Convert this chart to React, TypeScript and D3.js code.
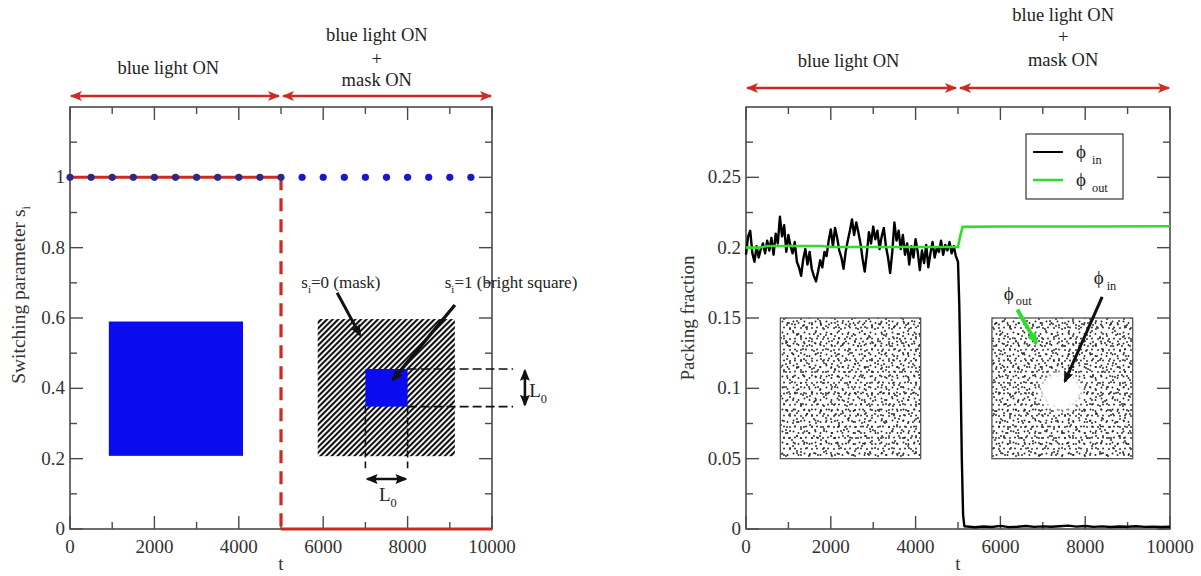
import React, { useRef, useEffect } from 'react';
import * as d3 from 'd3';

const W = 1201;
const H = 576;
const FONT = '"Liberation Serif", "Times New Roman", serif';

// ---- shared axis ticks ----
const T_MAJOR = [0, 2000, 4000, 6000, 8000, 10000];
const T_MINOR = [1000, 3000, 5000, 7000, 9000];
const T_LABELS = ['0', '2000', '4000', '6000', '8000', '10000'];

// ---- left panel: switching parameter ----
const S_MAJOR = [0, 0.2, 0.4, 0.6, 0.8, 1];
const S_MINOR = [0.1, 0.3, 0.5, 0.7, 0.9, 1.1];
const S_LABELS = ['0', '0.2', '0.4', '0.6', '0.8', '1'];

const DOT_T = [0, 500, 1000, 1500, 2000, 2500, 3000, 3500, 4000, 4500, 5000,
  5500, 6000, 6500, 7000, 7500, 8000, 8500, 9000, 9500];
const DOT_S = [1, 1, 1, 1, 1, 1, 1, 1, 1, 1, 1, 1, 1, 1, 1, 1, 1, 1, 1, 1];

// bright-square switching: on until the mask, then off
const SW_ON = [[0, 1], [5000, 1]];
const SW_DROP = [[5000, 1], [5000, 0]];
const SW_OFF = [[5000, 0], [10000, 0]];

// ---- right panel: packing fraction ----
const PHI_MAJOR = [0, 0.05, 0.1, 0.15, 0.2, 0.25];
const PHI_MINOR = [0.025, 0.075, 0.125, 0.175, 0.225, 0.275];
const PHI_LABELS = ['0', '0.05', '0.1', '0.15', '0.2', '0.25'];

const PHI_IN = [
  [0, 0.195], [50, 0.208], [100, 0.212], [150, 0.196], [200, 0.19], [250, 0.201],
  [300, 0.193], [350, 0.199], [400, 0.203], [450, 0.196], [500, 0.205], [550, 0.198],
  [600, 0.207], [650, 0.195], [700, 0.21], [750, 0.203], [800, 0.222], [850, 0.208],
  [900, 0.216], [950, 0.197], [1000, 0.209], [1050, 0.201], [1100, 0.196], [1150, 0.204],
  [1200, 0.19], [1250, 0.186], [1300, 0.18], [1350, 0.192], [1400, 0.199], [1450, 0.188],
  [1500, 0.197], [1550, 0.185], [1600, 0.18], [1650, 0.176], [1700, 0.183], [1750, 0.191],
  [1800, 0.186], [1850, 0.197], [1900, 0.194], [1950, 0.205], [2000, 0.213], [2050, 0.201],
  [2100, 0.214], [2150, 0.207], [2200, 0.198], [2250, 0.193], [2300, 0.185], [2350, 0.197],
  [2400, 0.205], [2450, 0.212], [2500, 0.22], [2550, 0.209], [2600, 0.218], [2650, 0.211],
  [2700, 0.203], [2750, 0.192], [2800, 0.183], [2850, 0.196], [2900, 0.211], [2950, 0.203],
  [3000, 0.215], [3050, 0.206], [3100, 0.212], [3150, 0.199], [3200, 0.208], [3250, 0.214],
  [3300, 0.201], [3350, 0.193], [3400, 0.182], [3450, 0.197], [3500, 0.218], [3550, 0.205],
  [3600, 0.212], [3650, 0.199], [3700, 0.209], [3750, 0.195], [3800, 0.203], [3850, 0.188],
  [3900, 0.201], [3950, 0.193], [4000, 0.206], [4050, 0.197], [4100, 0.184], [4150, 0.198],
  [4200, 0.189], [4250, 0.202], [4300, 0.186], [4350, 0.196], [4400, 0.204], [4450, 0.193],
  [4500, 0.2], [4550, 0.197], [4600, 0.205], [4650, 0.195], [4700, 0.202], [4750, 0.198],
  [4800, 0.204], [4850, 0.196], [4900, 0.201], [4950, 0.194], [5000, 0.19],
  [5030, 0.16], [5060, 0.11], [5090, 0.05], [5120, 0.01], [5150, 0.002],
  [5400, 0.0012], [5600, 0.0018], [5800, 0.0014], [6000, 0.0022], [6200, 0.0013],
  [6400, 0.0016], [6600, 0.0021], [6800, 0.0015], [7000, 0.0019], [7200, 0.0016],
  [7400, 0.002], [7600, 0.0024], [7800, 0.0017], [8000, 0.0021], [8200, 0.0015],
  [8400, 0.0019], [8600, 0.0014], [8800, 0.0018], [9000, 0.0016], [9200, 0.002],
  [9400, 0.0015], [9600, 0.0017], [9800, 0.0014], [10000, 0.0016],
];

const PHI_OUT = [
  [0, 0.2], [300, 0.2], [500, 0.2012], [1800, 0.2012], [2000, 0.2005], [4000, 0.2005],
  [5000, 0.2005], [5050, 0.208], [5110, 0.2148], [6000, 0.215], [8000, 0.215], [10000, 0.2152],
];

const GREEN = '#30dc30';
const RED = '#cc2a22';
const BLUE = '#0b0bf0';

function drawFrame(g: any, x: any, y: any, yMaj: number[], yMin: number[], yLab: string[]) {
  const [xa, xb] = x.range();
  const [ya, yb] = y.range();
  const col = '#4a4a4a';
  const tick = (x1: number, y1: number, x2: number, y2: number) =>
    g.append('line').attr('x1', x1).attr('y1', y1).attr('x2', x2).attr('y2', y2)
      .attr('stroke', col).attr('stroke-width', 1.4);
  T_MAJOR.forEach(v => { tick(x(v), ya, x(v), ya - 13); tick(x(v), yb, x(v), yb + 13); });
  T_MINOR.forEach(v => { tick(x(v), ya, x(v), ya - 7); tick(x(v), yb, x(v), yb + 7); });
  yMaj.forEach(v => { tick(xa, y(v), xa + 13, y(v)); tick(xb, y(v), xb - 13, y(v)); });
  yMin.forEach(v => { tick(xa, y(v), xa + 7, y(v)); tick(xb, y(v), xb - 7, y(v)); });
  g.append('rect').attr('x', xa).attr('y', yb).attr('width', xb - xa).attr('height', ya - yb)
    .attr('fill', 'none').attr('stroke', col).attr('stroke-width', 1.6);
  T_MAJOR.forEach((v, i) => g.append('text').attr('x', x(v)).attr('y', ya + 24)
    .attr('text-anchor', 'middle').attr('font-size', 19).attr('fill', '#333').text(T_LABELS[i]));
  yMaj.forEach((v, i) => g.append('text').attr('x', xa - 5).attr('y', y(v) + 6)
    .attr('text-anchor', 'end').attr('font-size', 19).attr('fill', '#333').text(yLab[i]));
  g.append('text').attr('x', x(5000)).attr('y', ya + 41).attr('text-anchor', 'middle')
    .attr('font-size', 19).attr('fill', '#333').text('t');
}

function drawPhases(g: any, x: any, arrowY: number, leftT: number, rightT: number, titleY: number, rightYs: number[]) {
  g.append('line').attr('x1', x(0) + 1).attr('x2', x(5000) - 2).attr('y1', arrowY).attr('y2', arrowY)
    .attr('stroke', RED).attr('stroke-width', 2.6)
    .attr('marker-start', 'url(#redHead)').attr('marker-end', 'url(#redHead)');
  g.append('line').attr('x1', x(5000) + 2).attr('x2', x(10000) - 1).attr('y1', arrowY).attr('y2', arrowY)
    .attr('stroke', RED).attr('stroke-width', 2.6)
    .attr('marker-start', 'url(#redHead)').attr('marker-end', 'url(#redHead)');
  const txt = (t: number, yy: number, s: string) => g.append('text').attr('x', x(t)).attr('y', yy)
    .attr('text-anchor', 'middle').attr('font-size', 18.5).attr('fill', '#222').text(s);
  txt(leftT, titleY, 'blue light ON');
  txt(rightT, rightYs[0], 'blue light ON');
  txt(rightT, rightYs[1], '+');
  txt(rightT, rightYs[2], 'mask ON');
}

function subText(g: any, px: number, py: number, main: string, sub: string, size: number, color = '#222', gap = 0) {
  const t = g.append('text').attr('x', px).attr('y', py).attr('font-size', size).attr('fill', color);
  t.append('tspan').text(main);
  t.append('tspan').attr('dx', gap).attr('dy', size * 0.3).attr('font-size', size * 0.65).text(sub);
  return t;
}

export default function App() {
  const ref = useRef<SVGSVGElement>(null);

  useEffect(() => {
    const svg = d3.select(ref.current);
    svg.selectAll('*').remove();
    svg.attr('font-family', FONT);

    const defs = svg.append('defs');
    defs.append('marker').attr('id', 'redHead').attr('viewBox', '0 0 13 11')
      .attr('markerUnits', 'userSpaceOnUse').attr('markerWidth', 13).attr('markerHeight', 11)
      .attr('refX', 11).attr('refY', 5.5).attr('orient', 'auto-start-reverse')
      .append('path').attr('d', 'M0,0.5 L12,5.5 L0,10.5 L3,5.5 Z').attr('fill', RED);
    defs.append('marker').attr('id', 'blackHead').attr('viewBox', '0 0 12 10')
      .attr('markerUnits', 'userSpaceOnUse').attr('markerWidth', 12).attr('markerHeight', 10)
      .attr('refX', 10).attr('refY', 5).attr('orient', 'auto-start-reverse')
      .append('path').attr('d', 'M0,0 L12,5 L0,10 L2,5 Z').attr('fill', '#111');
    defs.append('marker').attr('id', 'greenHead').attr('viewBox', '0 0 12 10')
      .attr('markerUnits', 'userSpaceOnUse').attr('markerWidth', 12).attr('markerHeight', 11)
      .attr('refX', 10).attr('refY', 5).attr('orient', 'auto')
      .append('path').attr('d', 'M0,0 L12,5 L0,10 Z').attr('fill', GREEN);

    // hatch for the mask
    defs.append('pattern').attr('id', 'hatch').attr('patternUnits', 'userSpaceOnUse')
      .attr('width', 4).attr('height', 4).attr('patternTransform', 'rotate(45)')
      .append('rect').attr('x', 0).attr('y', 0).attr('width', 2.1).attr('height', 4).attr('fill', '#111');

    // particle textures for snapshots
    const tiles: [string, number, number[][]][] = [
      ['pA', 11, [[1.5, 2.5], [6.5, 4], [3, 8.5], [9, 9]]],
      ['pB', 17, [[2, 13], [8, 6], [13, 1.5], [15, 11], [5, 2]]],
      ['pC', 23, [[4, 19], [11, 9], [19, 15], [21, 4], [7, 1], [15, 22]]],
      ['pD', 29, [[3, 24], [14, 16], [24, 8], [9, 5], [20, 27], [27, 19]]],
    ];
    tiles.forEach(([id, s, pts]) => {
      const p = defs.append('pattern').attr('id', id).attr('patternUnits', 'userSpaceOnUse')
        .attr('width', s).attr('height', s);
      pts.forEach(([cx, cy]) => p.append('circle').attr('cx', cx).attr('cy', cy).attr('r', 0.95).attr('fill', '#262626'));
    });
    defs.append('filter').attr('id', 'soft').append('feGaussianBlur').attr('stdDeviation', 2.5);

    // ================= LEFT PANEL =================
    const xL = d3.scaleLinear().domain([0, 10000]).range([70, 492]);
    const yL = d3.scaleLinear().domain([0, 1.2]).range([529, 107]);
    const gL = svg.append('g');

    drawFrame(gL, xL, yL, S_MAJOR, S_MINOR, S_LABELS);
    drawPhases(gL, xL, 96, 2330, 7270, 74, [41, 65, 86]);

    const ylab = gL.append('text').attr('transform', 'translate(25,295) rotate(-90)')
      .attr('text-anchor', 'middle').attr('font-size', 19.5).attr('fill', '#333');
    ylab.append('tspan').text('Switching parameter s');
    ylab.append('tspan').attr('dy', 5).attr('font-size', 12).text('i');

    // bright square (before mask)
    gL.append('rect').attr('x', xL(920)).attr('y', yL(0.59))
      .attr('width', xL(4100) - xL(920)).attr('height', yL(0.208) - yL(0.59)).attr('fill', BLUE);

    // mask with bright square
    gL.append('rect').attr('x', xL(5870)).attr('y', yL(0.597))
      .attr('width', xL(9120) - xL(5870)).attr('height', yL(0.207) - yL(0.597)).attr('fill', 'url(#hatch)');
    gL.append('rect').attr('x', xL(7000)).attr('y', yL(0.455))
      .attr('width', xL(8000) - xL(7000)).attr('height', yL(0.348) - yL(0.455)).attr('fill', BLUE);

    const dash = (x1: number, y1: number, x2: number, y2: number, da: string) =>
      gL.append('line').attr('x1', xL(x1)).attr('y1', yL(y1)).attr('x2', xL(x2)).attr('y2', yL(y2))
        .attr('stroke', '#111').attr('stroke-width', 1.6).attr('stroke-dasharray', da);
    dash(8000, 0.455, 10500, 0.455, '9,4');
    dash(8000, 0.348, 10500, 0.348, '9,4');
    dash(7000, 0.348, 7000, 0.173, '7,4');
    dash(8000, 0.348, 8000, 0.173, '7,4');

    const arrow = (g: any, x: any, y: any, x1: number, y1: number, x2: number, y2: number, w: number, both: boolean, color = '#111', head = 'blackHead') => {
      const l = g.append('line').attr('x1', x(x1)).attr('y1', y(y1)).attr('x2', x(x2)).attr('y2', y(y2))
        .attr('stroke', color).attr('stroke-width', w).attr('marker-end', `url(#${head})`);
      if (both) l.attr('marker-start', `url(#${head})`);
    };
    arrow(gL, xL, yL, 10780, 0.45, 10780, 0.353, 2.6, true);
    arrow(gL, xL, yL, 7050, 0.142, 7950, 0.142, 2.6, true);
    subText(gL, xL(10880), yL(0.375), 'L', '0', 19);
    subText(gL, xL(7320), yL(0.08), 'L', '0', 19);

    subText(gL, xL(5480), yL(0.685), 's', 'i', 17).append('tspan').attr('dy', -5).attr('font-size', 17).text('=0 (mask)');
    subText(gL, xL(8880), yL(0.685), 's', 'i', 17).append('tspan').attr('dy', -5).attr('font-size', 17).text('=1 (bright square)');
    arrow(gL, xL, yL, 6330, 0.672, 6870, 0.552, 3, false);
    arrow(gL, xL, yL, 9120, 0.637, 7650, 0.424, 3.4, false);

    // step line and dots
    const lineL = d3.line<number[]>().x(d => xL(d[0])).y(d => yL(d[1]));
    gL.append('path').attr('d', lineL(SW_ON)).attr('fill', 'none').attr('stroke', RED).attr('stroke-width', 3);
    gL.append('path').attr('d', lineL(SW_DROP)).attr('fill', 'none').attr('stroke', RED)
      .attr('stroke-width', 3.2).attr('stroke-dasharray', '13,8');
    gL.append('path').attr('d', lineL(SW_OFF)).attr('fill', 'none').attr('stroke', RED).attr('stroke-width', 3);
    gL.selectAll('circle.dot').data(DOT_T).enter().append('circle').attr('class', 'dot')
      .attr('cx', d => xL(d)).attr('cy', (_, i) => yL(DOT_S[i])).attr('r', 3.6)
      .attr('fill', d => (d <= 5000 ? '#2a2a8c' : '#1717cc'));

    // ================= RIGHT PANEL =================
    const xR = d3.scaleLinear().domain([0, 10000]).range([746, 1170]);
    const yR = d3.scaleLinear().domain([0, 0.3]).range([529, 107]);
    const gR = svg.append('g');

    drawFrame(gR, xR, yR, PHI_MAJOR, PHI_MINOR, PHI_LABELS);
    drawPhases(gR, xR, 88, 2420, 7480, 67, [21, 43, 66]);
    gR.append('text').attr('transform', 'translate(694,318) rotate(-90)').attr('text-anchor', 'middle')
      .attr('font-size', 19).attr('fill', '#333').text('Packing fraction');

    // snapshots
    const snap = (t0: number, t1: number, hole: boolean) => {
      const x0 = xR(t0), x1 = xR(t1), y0 = yR(0.15), y1 = yR(0.05);
      gR.append('rect').attr('x', x0).attr('y', y0).attr('width', x1 - x0).attr('height', y1 - y0).attr('fill', '#fff');
      ['pA', 'pB', 'pC', 'pD'].forEach(id => gR.append('rect').attr('x', x0).attr('y', y0)
        .attr('width', x1 - x0).attr('height', y1 - y0).attr('fill', `url(#${id})`));
      if (hole) {
        gR.append('ellipse').attr('cx', xR(7430)).attr('cy', yR(0.098)).attr('rx', 21).attr('ry', 19)
          .attr('fill', '#fff').attr('filter', 'url(#soft)');
        gR.append('ellipse').attr('cx', xR(7430)).attr('cy', yR(0.098)).attr('rx', 15).attr('ry', 14).attr('fill', '#fff');
      }
      gR.append('rect').attr('x', x0).attr('y', y0).attr('width', x1 - x0).attr('height', y1 - y0)
        .attr('fill', 'none').attr('stroke', '#555').attr('stroke-width', 1.3);
    };
    snap(810, 4120, false);
    snap(5800, 9120, true);

    subText(gR, xR(6080), yR(0.163), 'ϕ', 'out', 19, '#222', 2);
    subText(gR, xR(8200), yR(0.174), 'ϕ', 'in', 19, '#222', 3);
    arrow(gR, xR, yR, 6400, 0.156, 6850, 0.132, 4, false, GREEN, 'greenHead');
    arrow(gR, xR, yR, 8400, 0.165, 7520, 0.105, 3, false);

    const lineR = d3.line<number[]>().x(d => xR(d[0])).y(d => yR(d[1]));
    gR.append('path').attr('d', lineR(PHI_IN)).attr('fill', 'none').attr('stroke', '#000')
      .attr('stroke-width', 2.4).attr('stroke-linejoin', 'round');
    gR.append('path').attr('d', lineR(PHI_OUT)).attr('fill', 'none').attr('stroke', GREEN).attr('stroke-width', 2.6);

    // legend
    const lx = 1026, ly = 134;
    gR.append('rect').attr('x', lx).attr('y', ly).attr('width', 97).attr('height', 65)
      .attr('fill', '#fff').attr('stroke', '#444').attr('stroke-width', 1.3);
    gR.append('line').attr('x1', lx + 7).attr('x2', lx + 37).attr('y1', ly + 18).attr('y2', ly + 18)
      .attr('stroke', '#000').attr('stroke-width', 2);
    gR.append('line').attr('x1', lx + 7).attr('x2', lx + 37).attr('y1', ly + 46).attr('y2', ly + 46)
      .attr('stroke', GREEN).attr('stroke-width', 2.6);
    subText(gR, lx + 50, ly + 24, 'ϕ', 'in', 19, '#222', 6);
    subText(gR, lx + 50, ly + 52, 'ϕ', 'out', 19, '#222', 6);
  }, []);

  return (
    <svg ref={ref} width={W} height={H}
      style={{ position: 'absolute', left: 0, top: 0, background: '#fff' }} />
  );
}
